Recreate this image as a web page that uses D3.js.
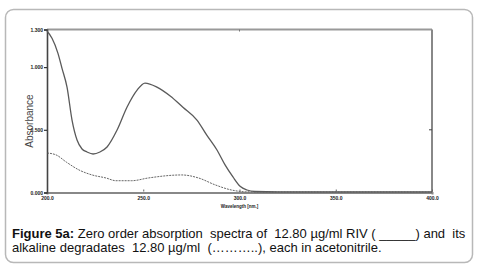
<!DOCTYPE html>
<html>
<head>
<meta charset="utf-8">
<script src="https://cdn.jsdelivr.net/npm/d3@7"></script>
<style>
  body { margin: 0; background: #fff; }
  svg { display: block; }
</style>
</head>
<body>
<div id="chart"></div>
<script>
// RIV spectrum (solid) - wavelength nm / absorbance
const rivNm  = [200, 202.6, 205.7, 207.8, 210.4, 213, 215.6, 218.2, 220.8, 223.9, 227.5, 231.2, 236.4, 241.6, 246.8, 250.9, 257.1, 264, 270.6, 277.9, 283, 288.3, 292.5, 296.6, 300.3, 303.9, 308, 320, 350, 380, 400];
const rivAbs = [1.288, 1.23, 1.11, 0.99, 0.84, 0.578, 0.419, 0.347, 0.323, 0.307, 0.323, 0.363, 0.498, 0.682, 0.817, 0.873, 0.841, 0.77, 0.68, 0.578, 0.458, 0.339, 0.22, 0.124, 0.05, 0.02, 0.008, 0.005, 0.005, 0.005, 0.005];

// alkaline degradates (dotted)
const degNm  = [200, 204.7, 210, 216.6, 223.4, 230.6, 235.8, 244, 252.7, 269.9, 278.7, 287.5, 295.8, 303, 320, 360, 400];
const degAbs = [0.315, 0.30, 0.243, 0.18, 0.14, 0.116, 0.094, 0.094, 0.116, 0.14, 0.116, 0.06, 0.02, 0.006, 0.004, 0.004, 0.004];

const xTicks = [200, 250, 300, 350, 400];
const yTicks = [0, 0.5, 1.0, 1.3];
const yTickLabels = ["0.000", "0.500", "1.000", "1.300"];

const W = 478, H = 270;
const svg = d3.select("#chart").append("svg")
    .attr("width", W)
    .attr("height", H);

// outer rounded frame
svg.append("rect")
    .attr("x", 5.5).attr("y", 9.5)
    .attr("width", 467).attr("height", 253)
    .attr("rx", 8)
    .attr("fill", "none")
    .attr("stroke", "#b8b8b8")
    .attr("stroke-width", 1.5);

const x = d3.scaleLinear().domain([200, 400]).range([47, 432]);
const y = d3.scaleLinear().domain([0, 1.3]).range([192.5, 29.5]);

// plot frame: top and right
svg.append("line")
    .attr("x1", x(200)).attr("x2", x(400))
    .attr("y1", y(1.3)).attr("y2", y(1.3))
    .attr("stroke", "#999").attr("stroke-width", 2);
svg.append("line")
    .attr("x1", x(400)).attr("x2", x(400))
    .attr("y1", y(1.3)).attr("y2", y(0))
    .attr("stroke", "#888").attr("stroke-width", 2);

// mirrored ticks
svg.append("line")
    .attr("x1", x(300)).attr("x2", x(300))
    .attr("y1", y(1.3)).attr("y2", y(1.3) + 2)
    .attr("stroke", "#777");
svg.append("line")
    .attr("x1", x(400) - 3).attr("x2", x(400))
    .attr("y1", y(0.5)).attr("y2", y(0.5))
    .attr("stroke", "#444");

// x axis
const xAxis = d3.axisBottom(x)
    .tickValues(xTicks)
    .tickFormat(d3.format(".1f"))
    .tickSize(2)
    .tickPadding(2);
const gx = svg.append("g")
    .attr("transform", `translate(0, ${y(0)})`)
    .call(xAxis);
gx.select(".domain").attr("stroke", "#888").attr("stroke-width", 2);
gx.selectAll(".tick line").attr("stroke", "#666").attr("transform", "translate(0,-3)");
gx.selectAll(".tick text")
    .attr("font-family", "Liberation Sans, Arial, sans-serif")
    .attr("font-size", 5)
    .attr("font-weight", "bold")
    .attr("fill", "#222");

gx.append("text")
    .attr("x", x(300))
    .attr("y", 15)
    .attr("text-anchor", "middle")
    .attr("font-family", "Liberation Sans, Arial, sans-serif")
    .attr("font-size", 4.5)
    .attr("font-weight", "bold")
    .attr("fill", "#222")
    .text("Wavelength [nm.]");

// y axis
const yAxis = d3.axisLeft(y)
    .tickValues(yTicks)
    .tickFormat((d, i) => yTickLabels[i])
    .tickSize(3)
    .tickPadding(1);
const gy = svg.append("g")
    .attr("transform", `translate(${x(200)}, 0)`)
    .call(yAxis);
gy.select(".domain").attr("stroke", "#444").attr("stroke-width", 1.6);
gy.selectAll(".tick line").attr("stroke", "#333").attr("stroke-width", 1.2);
gy.selectAll(".tick text")
    .attr("font-family", "Liberation Sans, Arial, sans-serif")
    .attr("font-size", 5)
    .attr("font-weight", "bold")
    .attr("fill", "#222");

svg.append("text")
    .attr("transform", `translate(33, 121) rotate(-90)`)
    .attr("text-anchor", "middle")
    .attr("font-family", "Liberation Sans, Arial, sans-serif")
    .attr("font-size", 10)
    .attr("fill", "#444")
    .text("Absorbance");

// curves
const line = d3.line()
    .x(d => x(d[0]))
    .y(d => y(d[1]))
    .curve(d3.curveMonotoneX);

svg.append("path")
    .datum(d3.zip(degNm, degAbs))
    .attr("d", line)
    .attr("fill", "none")
    .attr("stroke", "#555")
    .attr("stroke-width", 0.9)
    .attr("stroke-dasharray", "2,1");

svg.append("path")
    .datum(d3.zip(rivNm, rivAbs))
    .attr("d", line)
    .attr("fill", "none")
    .attr("stroke", "#5a5a5a")
    .attr("stroke-width", 1.3);

// caption
const cap = svg.append("g")
    .attr("font-family", "Liberation Sans, Arial, sans-serif")
    .attr("font-size", 13)
    .attr("fill", "#111");

const t1 = cap.append("text").attr("x", 12).attr("y", 238);
t1.append("tspan").attr("font-weight", "bold").text("Figure 5a:");
t1.append("tspan").text(" Zero order absorption\u00a0 spectra of\u00a0 12.80 µg/ml RIV ( _____) and\u00a0 its");

cap.append("text").attr("x", 12).attr("y", 252)
    .text("alkaline degradates\u00a0 12.80 µg/ml\u00a0 (………..), each in acetonitrile.");
</script>
</body>
</html>
